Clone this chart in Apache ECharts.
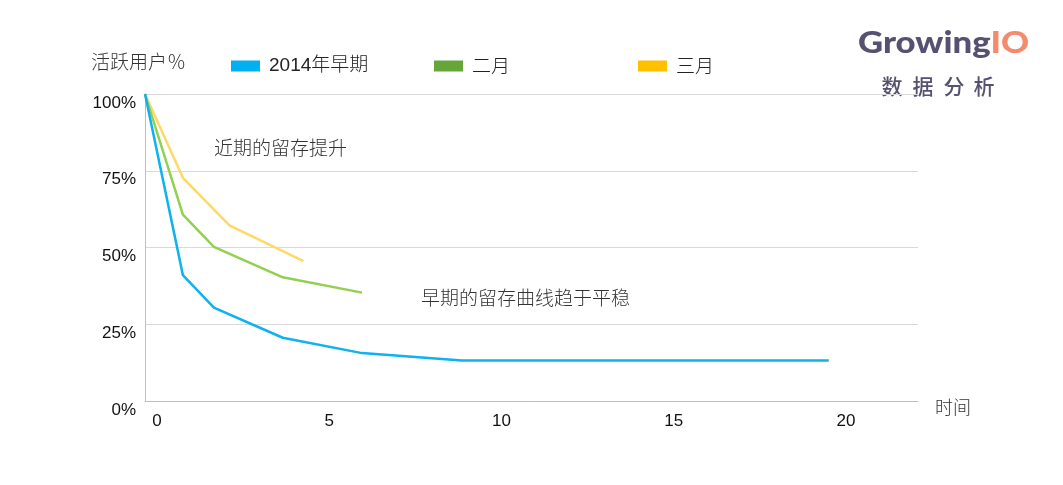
<!DOCTYPE html>
<html>
<head>
<meta charset="utf-8">
<script src="https://cdn.jsdelivr.net/npm/echarts@6/dist/echarts.min.js"></script>
<style>html,body{margin:0;padding:0;background:#fff;}#c{width:1063px;height:485px;}</style>
</head>
<body>
<div id="c"></div>
<script>
var seriesNames = ['2014年早期', '二月', '三月'];
var blueX = [0, 1.1, 2.0, 4.0, 6.3, 9.2, 19.85];
var blueY = [100, 41.0, 30.4, 20.6, 15.6, 13.2, 13.2];
var greenX = [0, 1.1, 2.0, 4.0, 6.3];
var greenY = [100, 60.7, 50.2, 40.3, 35.3];
var yellowX = [0, 1.1, 2.45, 4.6];
var yellowY = [100, 72.7, 57.2, 45.6];
var yTicks = [0, 25, 50, 75, 100];
var xTicks = [0, 5, 10, 15, 20];

function pairs(xs, ys) { return xs.map(function (x, i) { return [x, ys[i]]; }); }

var CJK = '"Noto Sans CJK SC", "Liberation Sans", sans-serif';
var LAT = '"Liberation Sans", Arial, "Noto Sans CJK SC", sans-serif';
var lineColors = ['#0DB2EF', '#92D050', '#FFD966'];
var iconColors = ['#00B0F0', '#65A53A', '#FFC000'];
var legendLeft = [231, 434, 638];

var chart = echarts.init(document.getElementById('c'));
var legends = seriesNames.map(function (n, i) {
  return {
    left: legendLeft[i], top: 56, padding: 0, icon: 'rect', itemWidth: 29, itemHeight: 11,
    data: [{ name: n, itemStyle: { color: iconColors[i] } }],
    textStyle: { fontSize: 19, fontFamily: i === 0 ? LAT : CJK, fontWeight: 300, color: '#222', lineHeight: 20, padding: [0, 0, 0, 4] },
    selectedMode: false
  };
});

function txt(x, y, s, size, color, align, weight) {
  return { type: 'text', x: x, y: y, style: { text: s, fontSize: size, fontFamily: CJK, fontWeight: weight || 300, fill: color, textAlign: align || 'left', textVerticalAlign: 'middle', verticalAlign: 'middle' } };
}

var logoChars = ['数', '据', '分', '析'];
var logoCenters = [892, 923, 954, 984];
var graphics = [
  txt(91, 62, '活跃用户％', 19, '#333'),
  txt(214, 148, '近期的留存提升', 19, '#333'),
  txt(421, 298, '早期的留存曲线趋于平稳', 19, '#333'),
  txt(935, 407, '时间', 18, '#333'),
  {
    type: 'text', x: 858, y: 43, scaleX: 1.12,
    style: {
      text: '{a|Growing}{b|IO}', textVerticalAlign: 'middle', verticalAlign: 'middle',
      rich: {
        a: { fontSize: 31, fontFamily: 'Lato', fontWeight: 900, fill: '#555170', color: '#555170' },
        b: { fontSize: 31, fontFamily: 'Lato', fontWeight: 900, fill: '#F48B6C', color: '#F48B6C' }
      }
    }
  }
];
logoChars.forEach(function (c, i) {
  graphics.push(txt(logoCenters[i], 86, c, 21, '#555170', 'center', 500));
});

var option = {
  animation: false,
  backgroundColor: '#fff',
  legend: legends,
  grid: { left: 145, right: 145, top: 94, bottom: 84 },
  xAxis: {
    type: 'value', min: 0, max: 22.44, interval: 5,
    axisLine: { show: true, lineStyle: { color: '#bfbfbf', width: 1 } },
    axisTick: { show: false },
    splitLine: { show: false },
    axisLabel: {
      fontSize: 17, fontFamily: LAT, color: '#111', margin: 12, padding: [0, 0, 0, 24],
      showMaxLabel: false,
      formatter: function (v) { return xTicks.indexOf(v) >= 0 ? String(v) : ''; }
    }
  },
  yAxis: {
    type: 'value', min: 0, max: 100, interval: 25,
    axisLine: { show: true, lineStyle: { color: '#bfbfbf', width: 1 } },
    axisTick: { show: false },
    splitLine: { show: true, lineStyle: { color: '#d9d9d9', width: 1 } },
    axisLabel: {
      fontSize: 17, fontFamily: LAT, color: '#111', margin: 9, verticalAlign: 'top', lineHeight: 18,
      formatter: function (v) { return yTicks.indexOf(v) >= 0 ? v + '%' : ''; }
    }
  },
  series: [
    { name: seriesNames[0], type: 'line', data: pairs(blueX, blueY), showSymbol: false, symbol: 'none', lineStyle: { color: lineColors[0], width: 2.5 }, itemStyle: { color: lineColors[0] }, z: 3 },
    { name: seriesNames[1], type: 'line', data: pairs(greenX, greenY), showSymbol: false, symbol: 'none', lineStyle: { color: lineColors[1], width: 2.5 }, itemStyle: { color: lineColors[1] }, z: 2 },
    { name: seriesNames[2], type: 'line', data: pairs(yellowX, yellowY), showSymbol: false, symbol: 'none', lineStyle: { color: lineColors[2], width: 2.5 }, itemStyle: { color: lineColors[2] }, z: 1 }
  ],
  graphic: graphics
};
chart.setOption(option);
</script>
</body>
</html>
